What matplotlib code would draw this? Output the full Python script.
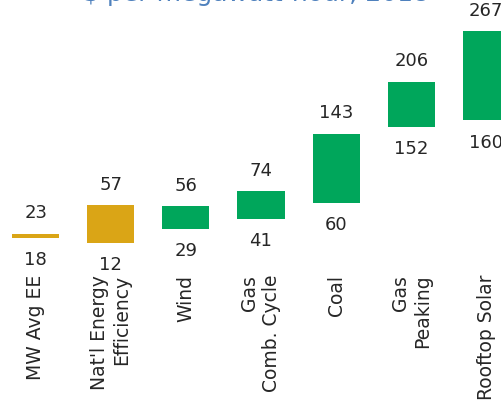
import numpy as np
import matplotlib
matplotlib.use("Agg")
import matplotlib.pyplot as plt

# data
categories = ["MW Avg EE", "Nat'l Energy\nEfficiency", "Wind", "Gas\nComb. Cycle",
              "Coal", "Gas\nPeaking", "Rooftop Solar"]
low = [18, 12, 29, 41, 60, 152, 160]
high = [23, 57, 56, 74, 143, 206, 267]
colors = ["#DAA516", "#DAA516", "#00A65B", "#00A65B", "#00A65B", "#00A65B", "#00A65B"]

plt.rcParams['font.family'] = ['DejaVu Sans']

W, H = 502, 414
fig = plt.figure(figsize=(W / 100, H / 100), dpi=100)

# axes: category i centred at 35.7 + 75.1*i px, value 0 at y=253.8 px, 0.83 px per unit
y0 = 253.8
ax = fig.add_axes([0, (H - y0) / H, 1, y0 / H])
ax.set_xlim(-35.7 / 75.1, (W - 35.7) / 75.1)
ax.set_ylim(0, y0 / 0.83)

x = np.arange(len(categories))
lo = np.array(low)
hi = np.array(high)
ax.bar(x, hi - lo, bottom=lo, width=0.627, color=colors, linewidth=0)

for xi, l, h in zip(x, lo, hi):
    ax.annotate(str(h), (xi, h), xytext=(0, 12), textcoords='offset points',
                ha='center', va='baseline', fontsize=13, color='#262626')
    ax.annotate(str(l), (xi, l), xytext=(0, -9), textcoords='offset points',
                ha='center', va='top', fontsize=13, color='#262626')

ax.set_xticks(x)
ax.set_xticklabels(categories, rotation=90, fontsize=13.5, color='#262626',
                   ha='center', va='top')
for lbl in ax.get_xticklabels():
    lbl.set_multialignment('right')
ax.tick_params(axis='x', length=0, pad=15)
ax.set_yticks([])
for s in ax.spines.values():
    s.set_visible(False)

fig.text(256.5 / W, 1 - 1 / H, "$ per megawatt-hour, 2018", ha='center',
         va='baseline', fontsize=18, color='#4F81BD')

fig.savefig("out.png", dpi=100)
